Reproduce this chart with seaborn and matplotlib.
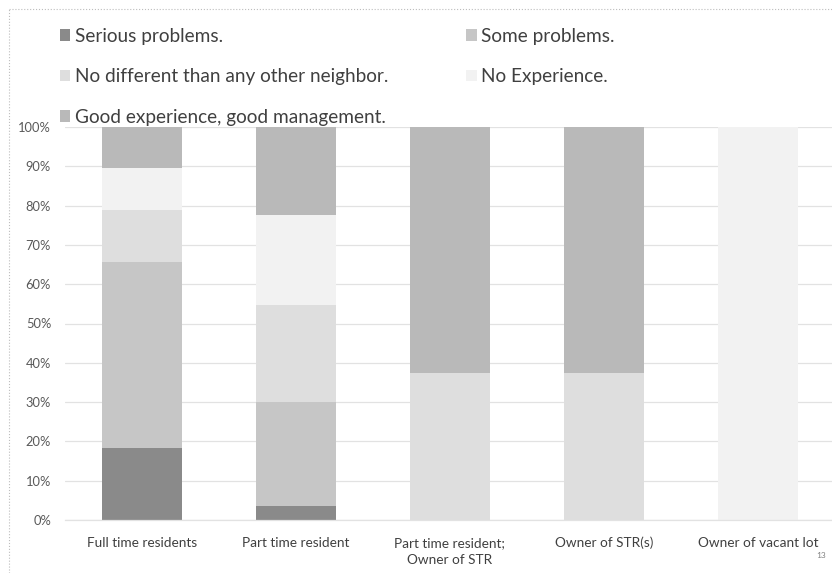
import matplotlib
matplotlib.use("Agg")
import matplotlib.pyplot as plt
import seaborn as sns
import numpy as np
import pandas as pd
from matplotlib.patches import Patch
from matplotlib.lines import Line2D

categories = ["Full time residents", "Part time resident", "Part time resident;\nOwner of STR",
              "Owner of STR(s)", "Owner of vacant lot"]
series_names = ["Serious problems.", "Some problems.", "No different than any other neighbor.",
                "No Experience.", "Good experience, good management."]
serious = [18.3, 3.6, 0.0, 0.0, 0.0]
some = [47.3, 26.4, 0.0, 0.0, 0.0]
no_diff = [13.3, 24.7, 37.5, 37.5, 0.0]
no_exp = [10.6, 22.9, 0.0, 0.0, 100.0]
good = [10.5, 22.4, 62.5, 62.5, 0.0]
yticks = [0, 10, 20, 30, 40, 50, 60, 70, 80, 90, 100]
ytick_labels = ["0%", "10%", "20%", "30%", "40%", "50%", "60%", "70%", "80%", "90%", "100%"]

colors = ["#8a8a8a", "#c6c6c6", "#dedede", "#f2f2f2", "#b9b9b9"]

sns.set_theme(style="white")
plt.rcParams["font.family"] = ["Lato", "DejaVu Sans"]

fig = plt.figure(figsize=(8.32, 5.73), dpi=100)
W, H = 832, 573
ax = fig.add_axes([65 / W, (H - 520) / H, 767 / W, 393 / H])

series = [serious, some, no_diff, no_exp, good]
cum = np.cumsum(np.array(series), axis=0)
# draw from top layer down so lower layers overlay
for i in range(len(series) - 1, -1, -1):
    d = pd.DataFrame({"cat": categories, "val": cum[i]})
    sns.barplot(data=d, x="cat", y="val", color=colors[i], width=0.52, ax=ax,
                saturation=1, edgecolor="none", linewidth=0, zorder=2)

ax.set_xlim(-0.5, -0.5 + 767 / 154)
ax.set_ylim(0, 100)
ax.set_yticks(yticks)
ax.set_yticklabels(ytick_labels, fontsize=9.3, color="#595959")
ax.set_xticks(range(len(categories)))
ax.set_xticklabels(categories, fontsize=9.8, color="#404040", linespacing=1.5)
ax.tick_params(axis="y", length=0, pad=10)
ax.tick_params(axis="x", length=0, pad=12)
ax.set_xlabel("")
ax.set_ylabel("")
ax.yaxis.grid(True, color="#e2e2e2", linewidth=0.9, zorder=0)
ax.set_axisbelow(True)
for s in ["top", "right", "left"]:
    ax.spines[s].set_visible(False)
ax.spines["bottom"].set_color("#e2e2e2")
ax.spines["bottom"].set_linewidth(0.9)

handles = [Patch(facecolor=colors[k], edgecolor="none") for k in range(5)]
order = [0, 2, 4, 1, 3]
fig.legend([handles[k] for k in order], [series_names[k] for k in order],
           ncol=2, loc="upper left", bbox_to_anchor=(52 / W, 1 - 20 / H),
           frameon=False, fontsize=13.7, labelcolor="#404040",
           handlelength=0.55, handleheight=0.55, handletextpad=0.25,
           labelspacing=1.24, columnspacing=4.1, borderaxespad=0)

fig.text(816 / W, 1 - 558 / H, "13", fontsize=6, color="#808080")

# slide border (dotted)
fig.add_artist(Line2D([9 / W, 9 / W], [0, 1 - 9 / H], transform=fig.transFigure,
                      color="#bdbdbd", linestyle=":", linewidth=0.8))
fig.add_artist(Line2D([9 / W, 1], [1 - 9 / H, 1 - 9 / H], transform=fig.transFigure,
                      color="#bdbdbd", linestyle=":", linewidth=0.8))

fig.savefig("out.png", dpi=100, facecolor="white")
